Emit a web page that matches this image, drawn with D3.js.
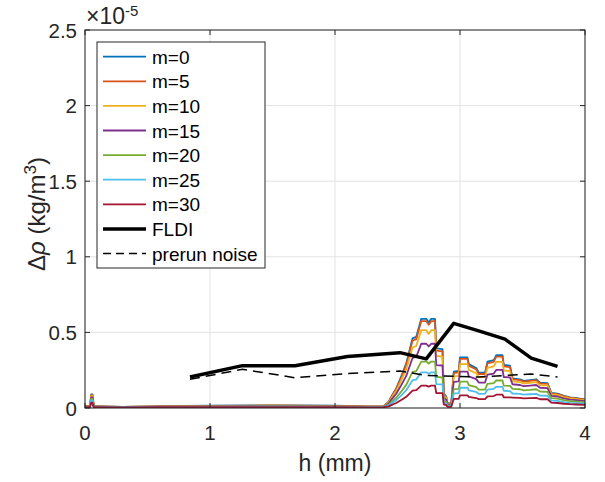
<!DOCTYPE html>
<html><head><meta charset="utf-8">
<script src="https://cdn.jsdelivr.net/npm/d3@7"></script>
<style>body{margin:0;background:#fff;} text{font-family:"Liberation Sans",Arial,Helvetica,sans-serif;}</style>
</head><body>
<svg id="c" width="605" height="482"></svg>
<script>
// ---- data (values in units of 1e-5 kg/m^3) ----
const hGrid = [0,0.04,0.05,0.06,0.07,0.08,0.3,0.6,1.0,1.5,2.0,
  2.28,2.39,2.43,2.45,2.49,2.53,2.57,2.62,2.65,
  2.69,2.73,2.75,2.77,2.80,2.81,2.86,2.87,2.89,2.90,
  2.93,2.95,2.99,3.00,3.06,3.07,3.13,3.15,3.20,3.22,
  3.27,3.29,3.34,3.35,3.40,3.42,3.48,3.51,3.56,3.61,
  3.64,3.70,3.73,3.78,3.83,3.88,3.93,4.0];
const m0 = [0.012,0.012,0.09,0.09,0.012,0.012,0.008,0.012,0.015,0.018,0.015,
  0.01,0.012,0.042,0.075,0.13,0.21,0.295,0.46,0.47,
  0.59,0.59,0.565,0.59,0.59,0.395,0.39,0.097,0.075,0.03,
  0.03,0.24,0.245,0.335,0.335,0.29,0.265,0.234,0.234,0.306,
  0.317,0.35,0.35,0.285,0.28,0.196,0.19,0.18,0.185,0.19,
  0.167,0.165,0.10,0.095,0.08,0.07,0.065,0.057];
const m5 = [0.011,0.011,0.085,0.085,0.011,0.011,0.008,0.011,0.014,0.017,0.014,
  0.01,0.012,0.04,0.072,0.125,0.2,0.285,0.445,0.455,
  0.575,0.575,0.55,0.575,0.575,0.38,0.375,0.093,0.072,0.028,
  0.028,0.23,0.235,0.325,0.325,0.28,0.255,0.225,0.225,0.295,
  0.305,0.34,0.34,0.275,0.27,0.19,0.184,0.175,0.18,0.184,
  0.162,0.16,0.097,0.092,0.078,0.068,0.063,0.055];
const m10 = [0.01,0.01,0.08,0.08,0.01,0.01,0.007,0.01,0.013,0.016,0.013,
  0.009,0.011,0.037,0.065,0.113,0.183,0.257,0.40,0.41,
  0.515,0.515,0.49,0.515,0.515,0.345,0.34,0.084,0.065,0.026,
  0.026,0.21,0.213,0.29,0.29,0.252,0.23,0.204,0.204,0.266,
  0.276,0.305,0.305,0.248,0.244,0.176,0.171,0.162,0.167,0.171,
  0.15,0.149,0.09,0.086,0.072,0.063,0.059,0.051];
const m15 = [0.009,0.009,0.07,0.07,0.009,0.009,0.006,0.009,0.011,0.013,0.011,
  0.008,0.009,0.03,0.054,0.094,0.151,0.212,0.331,0.338,
  0.425,0.425,0.407,0.425,0.425,0.284,0.281,0.07,0.054,0.022,
  0.022,0.173,0.176,0.241,0.241,0.209,0.191,0.168,0.168,0.22,
  0.228,0.252,0.252,0.205,0.202,0.157,0.152,0.144,0.148,0.152,
  0.134,0.132,0.08,0.076,0.064,0.056,0.052,0.046];
const m20 = [0.008,0.008,0.06,0.06,0.008,0.008,0.005,0.008,0.009,0.01,0.009,
  0.007,0.008,0.022,0.039,0.068,0.109,0.153,0.239,0.244,
  0.307,0.307,0.294,0.307,0.307,0.205,0.203,0.05,0.039,0.016,
  0.016,0.125,0.127,0.174,0.174,0.151,0.138,0.122,0.122,0.159,
  0.165,0.182,0.182,0.148,0.146,0.127,0.124,0.117,0.12,0.124,
  0.109,0.107,0.065,0.062,0.052,0.046,0.042,0.037];
const m25 = [0.007,0.007,0.05,0.05,0.007,0.007,0.005,0.007,0.008,0.009,0.008,
  0.006,0.007,0.017,0.03,0.052,0.084,0.118,0.184,0.188,
  0.236,0.236,0.226,0.236,0.236,0.158,0.156,0.039,0.03,0.012,
  0.012,0.096,0.098,0.134,0.134,0.116,0.106,0.094,0.094,0.122,
  0.127,0.14,0.14,0.114,0.112,0.096,0.093,0.088,0.091,0.093,
  0.082,0.081,0.049,0.047,0.039,0.034,0.032,0.028];
const m30 = [0.005,0.005,0.035,0.035,0.005,0.005,0.004,0.005,0.006,0.006,0.006,
  0.004,0.005,0.011,0.019,0.033,0.053,0.074,0.115,0.118,
  0.148,0.148,0.141,0.148,0.148,0.099,0.098,0.024,0.019,0.008,
  0.008,0.06,0.061,0.084,0.084,0.073,0.066,0.059,0.059,0.077,
  0.079,0.088,0.088,0.071,0.07,0.069,0.067,0.063,0.065,0.067,
  0.058,0.058,0.035,0.033,0.028,0.025,0.023,0.02];
const fldiH = [0.84,1.26,1.68,2.10,2.52,2.73,2.95,3.15,3.36,3.57,3.78];
const fldiV = [0.205,0.28,0.28,0.34,0.366,0.325,0.56,0.51,0.455,0.33,0.275];
const noiseV = [0.19,0.256,0.2,0.228,0.245,0.215,0.21,0.205,0.215,0.225,0.205];
const seriesNames = ["m=0","m=5","m=10","m=15","m=20","m=25","m=30"];
const seriesVals = [m0,m5,m10,m15,m20,m25,m30];
const colors = ["#0072BD","#D95319","#EDB120","#7E2F8E","#77AC30","#4DBEEE","#A2142F"];
const xTicks = [0,1,2,3,4];
const yTicks = [0,0.5,1,1.5,2,2.5];

// ---- drawing ----
const svg = d3.select("#c");
const L=85,R=585,T=30,B=408;
const x = d3.scaleLinear().domain([0,4]).range([L,R]);
const y = d3.scaleLinear().domain([0,2.5]).range([B,T]);
const axc = "#262626", fs = 20.5, lfs = 19, labfs = 23;

// grid
const g = svg.append("g");
g.selectAll(".gx").data(xTicks).join("line").attr("x1",d=>x(d)).attr("x2",d=>x(d)).attr("y1",T).attr("y2",B).attr("stroke","#e3e3e3").attr("stroke-width",1);
g.selectAll(".gy").data(yTicks).join("line").attr("y1",d=>y(d)).attr("y2",d=>y(d)).attr("x1",L).attr("x2",R).attr("stroke","#e3e3e3").attr("stroke-width",1);

// clip
svg.append("clipPath").attr("id","clip").append("rect").attr("x",L).attr("y",T).attr("width",R-L).attr("height",B-T);
const plot = svg.append("g").attr("clip-path","url(#clip)");
const line = d3.line().x(d=>x(d[0])).y(d=>y(d[1]));
seriesVals.forEach((vals,i)=>{
  plot.append("path").datum(hGrid.map((h,j)=>[h,vals[j]])).attr("d",line).attr("fill","none").attr("stroke",colors[i]).attr("stroke-width",1.8).attr("stroke-linejoin","round");
});
plot.append("path").datum(fldiH.map((h,j)=>[h,fldiV[j]])).attr("d",line).attr("fill","none").attr("stroke","#000").attr("stroke-width",3.5).attr("stroke-linejoin","round");
plot.append("path").datum(fldiH.map((h,j)=>[h,noiseV[j]])).attr("d",line).attr("fill","none").attr("stroke","#000").attr("stroke-width",1.5).attr("stroke-dasharray","10,6");

// axes box + ticks
const ax = svg.append("g");
ax.append("rect").attr("x",L).attr("y",T).attr("width",R-L).attr("height",B-T).attr("fill","none").attr("stroke",axc).attr("stroke-width",1);
const tl=5;
xTicks.forEach(d=>{
  ax.append("line").attr("x1",x(d)).attr("x2",x(d)).attr("y1",B).attr("y2",B-tl).attr("stroke",axc);
  ax.append("line").attr("x1",x(d)).attr("x2",x(d)).attr("y1",T).attr("y2",T+tl).attr("stroke",axc);
  ax.append("text").attr("x",x(d)).attr("y",B+32).attr("text-anchor","middle").attr("font-size",fs).attr("fill",axc).text(String(d));
});
yTicks.forEach(d=>{
  ax.append("line").attr("y1",y(d)).attr("y2",y(d)).attr("x1",L).attr("x2",L+tl).attr("stroke",axc);
  ax.append("line").attr("y1",y(d)).attr("y2",y(d)).attr("x1",R).attr("x2",R-tl).attr("stroke",axc);
  ax.append("text").attr("x",L-8).attr("y",y(d)+7.5).attr("text-anchor","end").attr("font-size",fs).attr("fill",axc).text(String(d));
});
// exponent
const ex = ax.append("text").attr("x",L+1).attr("y",T-6).attr("font-size",23).attr("fill",axc);
ex.append("tspan").text("\u00d710");
ex.append("tspan").attr("dy",-8).attr("font-size",15).text("-5");

// axis labels
ax.append("text").attr("x",(L+R)/2).attr("y",471).attr("text-anchor","middle").attr("font-size",labfs).attr("fill",axc).text("h (mm)");
const yl = ax.append("text").attr("transform",`translate(45,214) rotate(-90)`).attr("text-anchor","middle").attr("font-size",24).attr("fill",axc);
yl.append("tspan").text("\u0394");
yl.append("tspan").attr("font-style","italic").text("\u03c1");
yl.append("tspan").text(" (kg/m");
yl.append("tspan").attr("dy",-9).attr("font-size",17).text("3");
yl.append("tspan").attr("dy",9).text(")");

// legend
const lg = svg.append("g");
const lx=97, ly=42, lw=168, lh=226, rowH=24.6, r0=56.7;
lg.append("rect").attr("x",lx).attr("y",ly).attr("width",lw).attr("height",lh).attr("fill","#fff").attr("stroke",axc).attr("stroke-width",1);
const entries = seriesNames.map((n,i)=>({n,c:colors[i],w:1.8,dash:null}))
  .concat([{n:"FLDI",c:"#000",w:3.5,dash:null},{n:"prerun noise",c:"#000",w:1.5,dash:"8,5"}]);
entries.forEach((e,i)=>{
  const yy = r0 + i*rowH;
  lg.append("line").attr("x1",103).attr("x2",146).attr("y1",yy).attr("y2",yy).attr("stroke",e.c).attr("stroke-width",e.w).attr("stroke-dasharray",e.dash);
  lg.append("text").attr("x",152).attr("y",yy+7).attr("font-size",lfs).attr("fill","#000").text(e.n);
});
</script>
</body></html>
